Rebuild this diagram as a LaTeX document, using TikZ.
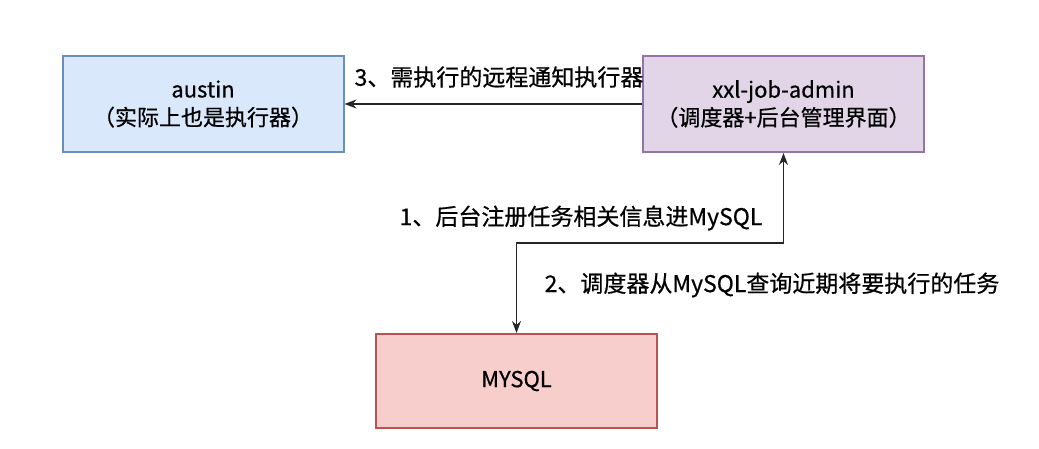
\documentclass[tikz,border=0pt]{standalone}
\usepackage{fontspec}
\setmainfont{Noto Sans CJK SC}[FakeBold=0.6]
\usetikzlibrary{arrows.meta}
\definecolor{bluefill}{HTML}{DAE8FC}
\definecolor{blueline}{HTML}{6C8EBF}
\definecolor{purpfill}{HTML}{E1D5E7}
\definecolor{purpline}{HTML}{9673A6}
\definecolor{redfill}{HTML}{F8CECC}
\definecolor{redline}{HTML}{B85450}
\tikzset{
  box/.style={rectangle, minimum width=281pt, minimum height=96pt, line width=2pt, align=center, font=\fontsize{22}{28}\selectfont, inner sep=0pt},
  conn/.style={line width=1.3pt, draw=black!85},
  tip/.style={-{Stealth[length=12pt,width=9pt]}},
  lbl/.style={font=\fontsize{23}{27}\selectfont, inner sep=0pt}
}
\begin{document}
\begin{tikzpicture}[x=1pt,y=-1pt]
\useasboundingbox[fill=white] (0,0) rectangle (1039,449);
\node[box, fill=bluefill, draw=blueline] (austin) at (203,104) {austin\\（实际上也是执行器）};
\node[box, fill=purpfill, draw=purpline] (admin) at (783.5,104) {xxl-job-admin\\（调度器+后台管理界面）};
\node[box, fill=redfill, draw=redline, minimum height=94pt] (mysql) at (516.5,381) {MYSQL};
\coordinate (bend) at (516.5,243);
\draw[conn, tip] (admin.west) -- (austin.east);
\draw[conn, {Stealth[length=12pt,width=9pt]}-{Stealth[length=12pt,width=9pt]}] (admin.south) |- (bend) -- (mysql.north);
\node[lbl] (l3) at (499,77) {3、需执行的远程通知执行器};
\node[lbl] (l1) at (581,218) {1、后台注册任务相关信息进MySQL};
\node[lbl] (l2) at (772,285) {2、调度器从MySQL查询近期将要执行的任务};
\end{tikzpicture}
\end{document}
